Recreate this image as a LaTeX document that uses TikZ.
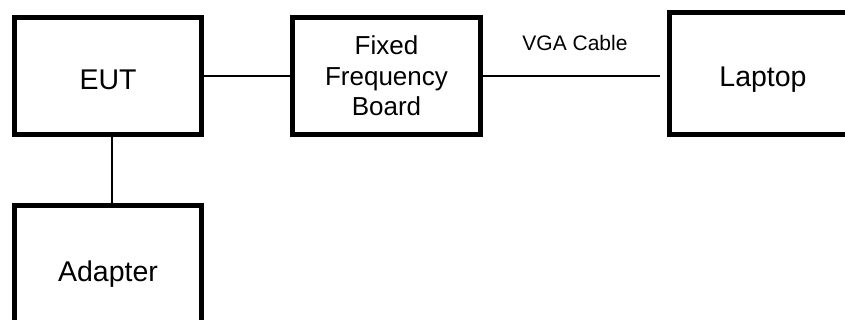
\documentclass[tikz,border=0pt]{standalone}
\usepackage{fontspec}
\setmainfont{Liberation Sans}
\usetikzlibrary{positioning}
\tikzset{
    unit box/.style={rectangle, draw=black, line width=5pt, minimum width=187pt, minimum height=117pt, inner sep=0pt, align=center, text height=27pt, text depth=0pt, font=\fontsize{28.5}{34}\selectfont},
    board box/.style={rectangle, draw=black, line width=5pt, minimum width=188pt, minimum height=117pt, inner sep=0pt, align=center, font=\fontsize{26}{30.5}\selectfont},
    link line/.style={draw=black, line width=2pt},
    cable label/.style={font=\fontsize{21}{25}\selectfont, inner sep=0pt},
}

\begin{document}
\begin{tikzpicture}[x=1pt, y=-1pt]
    \useasboundingbox (0,0) rectangle (845,320);
    \clip (0,0) rectangle (845,320);
    % units
    \node[unit box] (eut) at (108,76) {EUT};
    \node[board box, right=86pt of eut] (board) {Fixed\\Frequency\\Board};
    \node[unit box, minimum height=122pt] (laptop) at (763,73.5) {Laptop};
    \node[unit box, minimum height=125pt, below=66pt of eut] (adapter) {Adapter};
    % cables
    \draw[link line] (eut) -- (board);
    \draw[link line, shorten >=7pt] (board.east) -- (board.east -| laptop.west)
        node[cable label, midway, above=24pt] (vga) {VGA Cable};
    \draw[link line] ([xshift=4pt]eut.south) -- ([xshift=4pt]adapter.north);
\end{tikzpicture}
\end{document}
